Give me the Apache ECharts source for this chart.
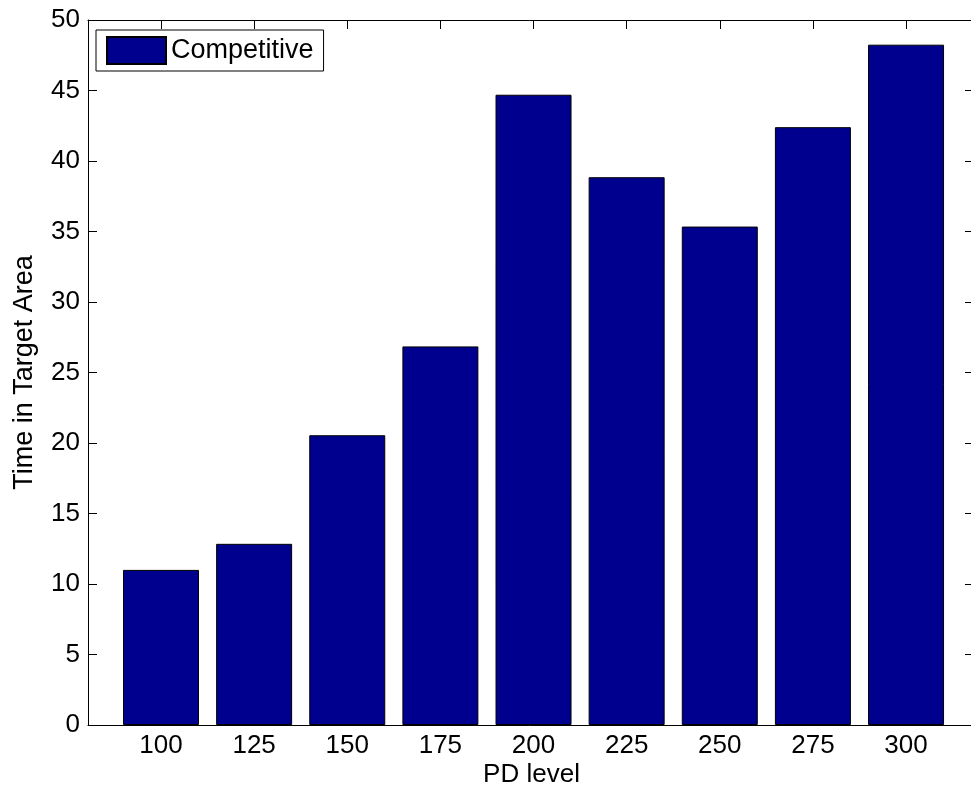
<!DOCTYPE html>
<html>
<head>
<meta charset="utf-8">
<script src="https://cdn.jsdelivr.net/npm/echarts@6/dist/echarts.min.js"></script>
<style>
  html, body { margin: 0; padding: 0; background: #fff; }
  #chart { width: 971px; height: 793px; }
</style>
</head>
<body>
<div id="chart"></div>
<script>
// PD levels and time spent in the target area
const pdLevels = ['100', '125', '150', '175', '200', '225', '250', '275', '300'];
const competitive = [11.0, 12.85, 20.55, 26.85, 44.7, 38.85, 35.35, 42.4, 48.25];
const yTicks = { min: 0, max: 50, step: 5 };

const FONT = 'Liberation Sans, Arial, sans-serif';
const FONT_SIZE = 26;
const BAR_COLOR = '#00008f';

// frame: outer axes box spanning the whole plot region
const frameLeft = 88, frameTop = 20, frameWidth = 887, frameHeight = 705;
// bar bands: nine equal categories centred on the tick positions
const bandWidth = 93.13;
const barsLeft = 161 - bandWidth / 2;

const chart = echarts.init(document.getElementById('chart'), null, { renderer: 'canvas' });

const frameLine = { show: true, onZero: false, lineStyle: { color: '#000', width: 1 } };

chart.setOption({
  animation: false,
  backgroundColor: '#ffffff',
  textStyle: { fontFamily: FONT },
  grid: [
    { left: frameLeft, top: frameTop, width: frameWidth, height: frameHeight, containLabel: false, outerBoundsMode: 'none' },
    { left: barsLeft, top: frameTop, width: bandWidth * pdLevels.length, height: frameHeight, containLabel: false, outerBoundsMode: 'none' }
  ],
  legend: {
    show: true,
    data: [{ name: 'Competitive', icon: 'rect' }],
    left: 96,
    top: 30,
    padding: [6, 10, 6, 10],
    itemWidth: 59,
    itemHeight: 27,
    itemGap: 5,
    backgroundColor: '#ffffff',
    borderColor: '#000000',
    borderWidth: 1,
    borderRadius: 0,
    textStyle: { fontFamily: FONT, fontSize: 27, color: '#000' }
  },
  xAxis: [
    {
      // bottom frame line
      gridIndex: 0, type: 'value', position: 'bottom', min: 0, max: 1,
      axisLine: frameLine,
      axisTick: { show: false }, axisLabel: { show: false }, splitLine: { show: false },
      name: 'PD level', nameLocation: 'middle', nameGap: 37,
      nameTextStyle: { fontFamily: FONT, fontSize: FONT_SIZE, color: '#000' }
    },
    {
      // top frame line
      gridIndex: 0, type: 'value', position: 'top', min: 0, max: 1,
      axisLine: frameLine,
      axisTick: { show: false }, axisLabel: { show: false }, splitLine: { show: false }
    },
    {
      // category axis carrying the bars
      gridIndex: 1, type: 'category', position: 'bottom', data: pdLevels,
      boundaryGap: true,
      axisLine: { show: false, onZero: false },
      axisTick: { show: true, inside: true, alignWithLabel: true, length: 9, lineStyle: { color: '#000' } },
      axisLabel: { show: true, fontFamily: FONT, fontSize: FONT_SIZE, color: '#000', margin: 8 },
      splitLine: { show: false }
    },
    {
      gridIndex: 1, type: 'category', position: 'top', data: pdLevels,
      boundaryGap: true,
      axisLine: { show: false, onZero: false },
      axisTick: { show: true, inside: true, alignWithLabel: true, length: 9, lineStyle: { color: '#000' } },
      axisLabel: { show: false },
      splitLine: { show: false }
    }
  ],
  yAxis: [
    {
      gridIndex: 0, type: 'value', position: 'left',
      min: yTicks.min, max: yTicks.max, interval: yTicks.step,
      axisLine: frameLine,
      axisTick: { show: true, inside: true, length: 9, lineStyle: { color: '#000' } },
      axisLabel: { show: true, fontFamily: FONT, fontSize: FONT_SIZE, color: '#000', margin: 8 },
      splitLine: { show: false },
      name: 'Time in Target Area', nameLocation: 'middle', nameGap: 50, nameRotate: 90,
      nameTextStyle: { fontFamily: FONT, fontSize: 27, color: '#000' }
    },
    {
      gridIndex: 0, type: 'value', position: 'right',
      min: yTicks.min, max: yTicks.max, interval: yTicks.step,
      axisLine: frameLine,
      axisTick: { show: true, inside: true, length: 10, lineStyle: { color: '#000' } },
      axisLabel: { show: false },
      splitLine: { show: false }
    },
    {
      gridIndex: 1, type: 'value',
      min: yTicks.min, max: yTicks.max, interval: yTicks.step,
      axisLine: { show: false, onZero: false },
      show: false
    }
  ],
  series: [
    {
      name: 'Competitive',
      type: 'bar',
      xAxisIndex: 2,
      yAxisIndex: 2,
      data: competitive,
      barWidth: '81.6%',
      itemStyle: { color: BAR_COLOR, borderColor: '#000000', borderWidth: 1 }
    }
  ]
});
</script>
</body>
</html>
